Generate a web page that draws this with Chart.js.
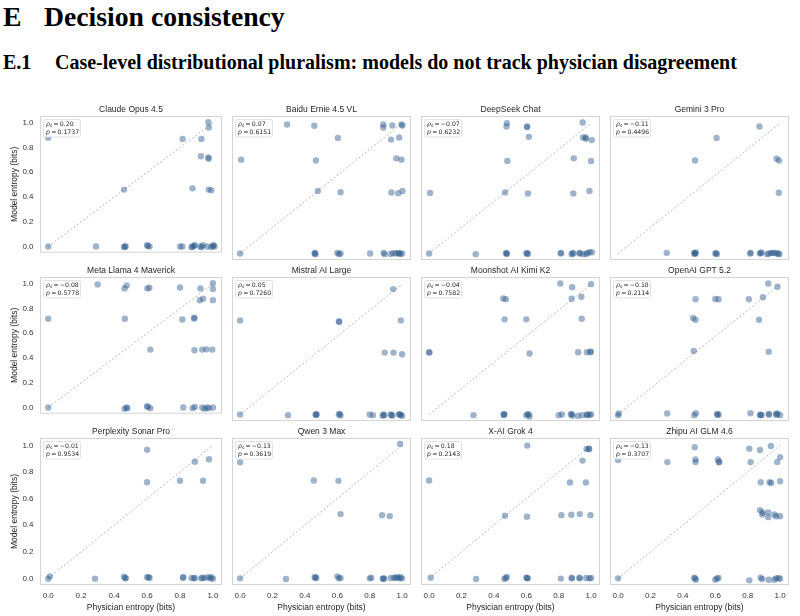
<!DOCTYPE html>
<html>
<head>
<meta charset="utf-8">
<script src="https://cdn.jsdelivr.net/npm/chart.js@4.4.1/dist/chart.umd.min.js"></script>
<style>
body { margin: 0; width: 800px; height: 616px; background: #fff; position: relative; overflow: hidden; }
.head { position: absolute; font-family: "Liberation Serif", "Times New Roman", serif; font-weight: bold; color: #000; white-space: nowrap; line-height: 1; }
canvas { position: absolute; }
</style>
</head>
<body>
<div class="head" style="left:3px;top:3px;font-size:27.7px">E</div>
<div class="head" style="left:44px;top:3px;font-size:27.7px">Decision consistency</div>
<div class="head" style="left:3px;top:52px;font-size:20px">E.1</div>
<div class="head" style="left:55px;top:52px;font-size:20px">Case-level distributional pluralism: models do not track physician disagreement</div>
<script>
// panel names, in reading order
const models = ['Claude Opus 4.5', 'Baidu Ernie 4.5 VL', 'DeepSeek Chat', 'Gemini 3 Pro',
    'Meta Llama 4 Maverick', 'Mistral AI Large', 'Moonshot AI Kimi K2', 'OpenAI GPT 5.2',
    'Perplexity Sonar Pro', 'Qwen 3 Max', 'X-AI Grok 4', 'Zhipu AI GLM 4.6'];
const rhoS = ['0.20', '0.07', '\u22120.07', '\u22120.11', '\u22120.08', '0.05', '\u22120.04', '\u22120.18',
    '\u22120.01', '\u22120.13', '0.18', '\u22120.13'];
const pValues = ['0.1737', '0.6151', '0.6232', '0.4496', '0.5778', '0.7260', '0.7582', '0.2114',
    '0.9534', '0.3619', '0.2143', '0.3707'];
const entropyTicks = [0, 0.2, 0.4, 0.6, 0.8, 1.0];
const diagonal = [{x: 0, y: 0}, {x: 1, y: 1}];

// [physician entropy, model entropy] per case (jittered)
const claude = [[0.0,0.88],[0.0,0.0],[0.29,0.0],[0.46,0.46],[0.46,-0.005],[0.47,0.0],[0.465,0.0],[0.60,0.01],[0.615,0.0],[0.605,0.005],[0.80,0.0],[0.814,0.0],[0.816,0.87],[0.876,0.47],[0.87,-0.005],[0.875,0.0],[0.885,0.005],[0.89,0.01],[0.93,0.87],[0.927,0.73],[0.925,0.0],[0.94,0.01],[0.93,-0.005],[0.972,1.005],[0.975,0.962],[0.972,0.72],[0.974,0.71],[0.975,0.46],[0.99,0.455],[0.965,0.0],[0.99,-0.005],[1.003,0.01],[1.01,0.0],[1.0,0.005]];
const baidu = [[0.0,0.0],[0.006,0.72],[0.29,0.99],[0.458,0.98],[0.468,0.713],[0.48,0.479],[0.46,0.0],[0.465,-0.005],[0.462,0.005],[0.604,0.887],[0.62,0.47],[0.60,0.005],[0.61,-0.005],[0.62,0.0],[0.803,0.0],[0.884,0.99],[0.884,0.967],[0.886,0.005],[0.892,-0.005],[0.932,0.874],[0.94,0.982],[0.934,0.468],[0.964,0.73],[0.982,0.89],[0.976,0.463],[0.996,0.99],[1.002,0.982],[0.996,0.72],[1.002,0.48],[0.93,-0.003],[0.945,0.003],[0.96,0.0],[0.975,0.005],[0.99,-0.003],[1.0,0.0],[0.982,0.0]];
const deepseek = [[0.0,0.0],[0.006,0.465],[0.288,-0.005],[0.48,1.0],[0.478,0.975],[0.483,0.71],[0.469,0.468],[0.475,0.005],[0.48,-0.003],[0.478,0.0],[0.604,0.97],[0.606,0.975],[0.616,0.895],[0.61,0.46],[0.60,0.005],[0.61,0.0],[0.605,-0.003],[0.815,0.005],[0.812,0.0],[0.88,-0.005],[0.89,0.0],[0.885,0.003],[0.893,0.73],[0.89,0.46],[0.928,0.0],[0.93,0.005],[0.948,1.005],[0.95,0.89],[0.968,0.88],[0.966,0.89],[0.95,-0.005],[0.97,-0.005],[0.976,0.005],[0.99,0.01],[1.005,0.01],[1.004,0.87],[1.0,0.71],[0.99,0.48]];
const gemini = [[0.3,0.005],[0.475,0.714],[0.47,0.005],[0.475,0.0],[0.48,0.008],[0.472,-0.003],[0.608,0.887],[0.6,0.0],[0.61,-0.005],[0.605,0.003],[0.816,0.0],[0.818,0.005],[0.873,0.975],[0.875,0.0],[0.885,0.008],[0.88,0.003],[0.92,-0.005],[0.93,0.0],[0.945,0.003],[0.965,0.005],[0.98,0.0],[0.995,-0.005],[0.978,0.727],[0.994,0.714],[0.992,0.466],[0.955,0.005],[0.99,0.0]];
const llama = [[0.0,0.0],[0.0,0.717],[0.3,0.995],[0.463,0.963],[0.476,0.987],[0.465,0.718],[0.463,-0.01],[0.48,-0.005],[0.476,0.0],[0.602,0.963],[0.614,0.968],[0.62,0.468],[0.60,0.01],[0.605,0.005],[0.62,-0.005],[0.8,0.97],[0.814,0.712],[0.82,0.0],[0.886,0.72],[0.887,0.725],[0.888,0.463],[0.877,-0.005],[0.89,0.005],[0.924,0.963],[0.92,0.867],[0.94,0.88],[0.935,0.468],[0.96,0.47],[0.935,0.0],[0.95,-0.01],[0.965,0.0],[0.975,-0.005],[1.0,1.005],[1.0,0.958],[1.0,0.868],[0.996,0.468],[1.0,0.0]];
const mistral = [[0.0,0.0],[0.0,0.722],[0.296,-0.005],[0.466,0.0],[0.47,-0.003],[0.472,0.002],[0.61,0.715],[0.612,0.71],[0.61,0.0],[0.62,-0.008],[0.615,0.005],[0.80,0.0],[0.82,-0.005],[0.88,-0.01],[0.89,-0.005],[0.885,0.0],[0.893,0.475],[0.945,0.962],[0.947,0.475],[0.93,0.0],[0.94,-0.01],[0.935,-0.003],[0.98,0.0],[0.992,-0.005],[1.0,-0.01],[0.985,0.003],[0.992,0.722],[1.0,0.462]];
const kimi = [[0.0,0.478],[0.002,0.475],[0.274,-0.005],[0.458,0.89],[0.474,0.885],[0.466,0.73],[0.46,0.0],[0.465,0.003],[0.462,-0.003],[0.6,0.73],[0.62,0.468],[0.6,-0.005],[0.615,0.0],[0.62,-0.015],[0.608,0.003],[0.81,1.005],[0.8,-0.005],[0.82,0.0],[0.883,0.977],[0.88,0.888],[0.875,0.0],[0.885,-0.01],[0.88,0.005],[0.92,0.478],[0.92,-0.01],[0.94,0.903],[0.942,0.735],[0.946,-0.005],[0.974,0.0],[0.976,-0.005],[0.974,0.478],[0.998,0.483],[0.996,0.478],[1.0,1.0],[1.0,0.0],[0.99,-0.002]];
const gpt = [[0.0,-0.005],[0.004,0.008],[0.303,0.008],[0.463,0.74],[0.478,0.727],[0.467,0.487],[0.478,0.884],[0.47,-0.005],[0.48,0.01],[0.6,0.886],[0.62,0.884],[0.61,0.005],[0.62,0.0],[0.615,-0.003],[0.807,0.884],[0.817,0.01],[0.87,0.727],[0.876,-0.005],[0.886,-0.005],[0.88,0.0],[0.894,0.9],[0.927,1.005],[0.93,0.482],[0.93,0.005],[0.932,-0.002],[0.975,0.005],[0.984,0.008],[1.0,-0.005],[0.978,-0.003],[0.984,0.98]];
const sonar = [[0.0,-0.003],[0.01,0.015],[0.284,-0.003],[0.46,0.012],[0.47,0.0],[0.468,0.003],[0.6,0.967],[0.6,0.722],[0.6,0.008],[0.615,0.003],[0.61,0.008],[0.8,0.734],[0.82,0.008],[0.818,0.005],[0.89,0.877],[0.87,0.003],[0.885,0.0],[0.89,0.003],[0.94,0.734],[0.976,0.895],[0.93,0.0],[0.935,0.005],[0.95,0.003],[0.97,0.008],[0.99,0.008],[0.985,0.0],[1.0,-0.003]];
const qwen = [[0.0,0.0],[0.0,0.873],[0.283,-0.005],[0.455,0.735],[0.46,0.01],[0.47,0.005],[0.465,0.003],[0.607,0.733],[0.62,0.483],[0.6,0.015],[0.61,0.0],[0.62,0.003],[0.8,0.0],[0.81,0.005],[0.876,0.475],[0.924,0.468],[0.88,-0.003],[0.89,-0.003],[0.885,0.0],[0.988,1.01],[0.93,0.003],[0.95,0.005],[0.97,0.01],[0.985,0.0],[1.0,0.0],[0.96,0.003],[0.99,0.008]];
const grok = [[0.01,0.005],[0.0,0.735],[0.29,-0.005],[0.468,0.47],[0.465,-0.005],[0.48,0.01],[0.473,0.003],[0.606,0.998],[0.604,0.463],[0.6,0.005],[0.61,0.0],[0.605,0.003],[0.817,0.475],[0.813,-0.002],[0.87,0.72],[0.878,0.478],[0.88,0.005],[0.882,0.0],[0.93,0.483],[0.93,0.0],[0.928,0.005],[0.947,0.885],[0.968,0.72],[0.972,0.973],[0.988,0.97],[0.986,0.975],[0.996,0.475],[0.97,0.003],[1.0,0.003],[0.99,0.0]];
const glm = [[0.0,0.0],[0.0,0.89],[0.304,0.874],[0.473,0.985],[0.478,0.894],[0.478,0.874],[0.47,0.005],[0.48,-0.01],[0.475,0.0],[0.616,0.894],[0.625,0.876],[0.622,0.872],[0.6,-0.01],[0.61,0.0],[0.62,0.003],[0.81,0.975],[0.818,0.874],[0.81,-0.015],[0.876,0.965],[0.88,0.722],[0.876,0.513],[0.892,0.495],[0.89,0.48],[0.88,0.005],[0.89,-0.005],[0.927,0.495],[0.927,0.46],[0.935,0.722],[0.945,0.717],[0.943,0.995],[0.93,-0.01],[0.965,0.48],[0.975,0.467],[0.982,0.874],[1.0,0.91],[1.0,0.73],[1.0,0.467],[0.965,-0.01],[0.975,0.0],[0.99,0.003],[1.0,-0.003]];

const series = [claude, baidu, deepseek, gemini, llama, mistral, kimi, gpt, sonar, qwen, grok, glm];

// layout of the 3x4 grid (plot box positions)
const COL_LEFT = [40, 229, 418, 607];
const ROW_TOP = [116, 277, 438];
const BOX_W = 185, BOX_H = 147;

const SANS = '"Liberation Sans", Arial, sans-serif';
const MATH = '"DejaVu Sans", sans-serif';

// frame, panel title and the spearman box
const panelDecor = {
    id: 'panelDecor',
    beforeDatasetsDraw(chart, args, opts) {
        const ctx = chart.ctx, a = chart.chartArea;
        ctx.save();
        ctx.strokeStyle = '#d4d4d4';
        ctx.lineWidth = 1;
        ctx.strokeRect(a.left + 0.5, a.top + 0.5, a.width - 1, a.height - 1);
        ctx.fillStyle = '#262626';
        ctx.font = '8.5px ' + SANS;
        ctx.textAlign = 'center';
        ctx.textBaseline = 'middle';
        ctx.fillText(opts.title, (a.left + a.right) / 2, a.top - 6);
        ctx.restore();
    },
    afterDatasetsDraw(chart, args, opts) {
        const ctx = chart.ctx, a = chart.chartArea;
        const bx = a.left + 3.5, by = a.top + 3.5;
        ctx.save();
        ctx.fillStyle = 'rgba(255,255,255,0.85)';
        ctx.strokeStyle = '#d9d9d9';
        ctx.lineWidth = 0.8;
        ctx.beginPath();
        ctx.roundRect(bx, by, 37, 17.5, 2);
        ctx.fill();
        ctx.stroke();
        ctx.fillStyle = '#262626';
        ctx.textAlign = 'left';
        ctx.textBaseline = 'middle';
        const fs = 6.2;
        const piece = (txt, x, y, font) => { ctx.font = font; ctx.fillText(txt, x, y); return x + ctx.measureText(txt).width; };
        // line 1: rho_s = value
        let y = by + 5, x = bx + 2.5;
        x = piece('\u03c1', x, y, 'italic ' + fs + 'px ' + MATH);
        x = piece('s', x, y + 1.6, 'italic 4.4px ' + MATH);
        x = piece('=', x + 1.2, y, fs + 'px ' + MATH);
        piece(opts.rho, x + 1.2, y, fs + 'px ' + MATH);
        // line 2: p = value
        y = by + 12.5; x = bx + 2.5;
        x = piece('p', x, y, 'italic ' + fs + 'px ' + MATH);
        x = piece('=', x + 1.2, y, fs + 'px ' + MATH);
        piece(opts.p, x + 1.2, y, fs + 'px ' + MATH);
        ctx.restore();
    }
};

models.forEach((name, i) => {
    const r = Math.floor(i / 4), c = i % 4;
    const padL = c === 0 ? 40 : 1, padR = 1, padT = 14, padB = r === 2 ? 29 : 1;
    const canvas = document.createElement('canvas');
    canvas.width = padL + BOX_W + padR;
    canvas.height = padT + BOX_H + padB;
    canvas.style.left = (COL_LEFT[c] - padL) + 'px';
    canvas.style.top = (ROW_TOP[r] - padT) + 'px';
    document.body.appendChild(canvas);

    new Chart(canvas, {
        type: 'scatter',
        data: {
            datasets: [{
                data: series[i].map(d => ({x: d[0], y: d[1]})),
                backgroundColor: 'rgba(42,88,138,0.45)',
                borderWidth: 0,
                pointRadius: 3.2,
                order: 1
            }, {
                data: diagonal,
                showLine: true,
                borderColor: '#a6a6a6',
                borderWidth: 0.8,
                borderDash: [2, 2],
                pointRadius: 0,
                order: 2
            }]
        },
        options: {
            responsive: false,
            animation: false,
            devicePixelRatio: 1,
            layout: {padding: {top: padT, left: 0, right: padR, bottom: 0}},
            plugins: {
                legend: {display: false},
                tooltip: {enabled: false},
                panelDecor: {title: name, rho: rhoS[i], p: pValues[i]}
            },
            scales: {
                x: {
                    type: 'linear',
                    min: -0.05,
                    max: 1.055,
                    grid: {display: false, drawTicks: false},
                    border: {display: false},
                    afterBuildTicks: s => { s.ticks = entropyTicks.map(v => ({value: v})); },
                    afterFit: s => { s.height = padB; },
                    ticks: {
                        display: r === 2,
                        autoSkip: false,
                        maxRotation: 0,
                        padding: 6,
                        color: '#333',
                        font: {family: SANS, size: 8},
                        callback: v => v.toFixed(1)
                    },
                    title: {
                        display: r === 2,
                        text: 'Physician entropy (bits)',
                        color: '#262626',
                        font: {family: SANS, size: 8.5},
                        padding: {top: 0, bottom: 1.5}
                    }
                },
                y: {
                    type: 'linear',
                    min: -0.05,
                    max: 1.055,
                    grid: {display: false, drawTicks: false},
                    border: {display: false},
                    afterBuildTicks: s => { s.ticks = entropyTicks.map(v => ({value: v})); },
                    afterFit: s => { s.width = padL; },
                    ticks: {
                        display: c === 0,
                        autoSkip: false,
                        padding: 6.5,
                        color: '#333',
                        font: {family: SANS, size: 8},
                        callback: v => v.toFixed(1)
                    },
                    title: {
                        display: c === 0,
                        text: 'Model entropy (bits)',
                        color: '#262626',
                        font: {family: SANS, size: 8.5},
                        padding: {top: 10, bottom: 0}
                    }
                }
            }
        },
        plugins: [panelDecor]
    });
});
</script>
</body>
</html>
